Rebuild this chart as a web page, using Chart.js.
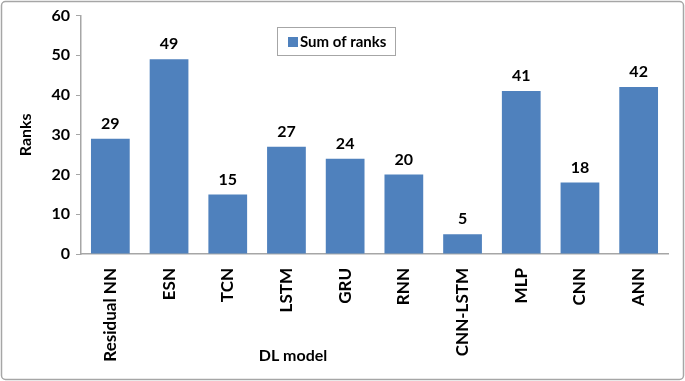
<!DOCTYPE html>
<html>
<head>
<meta charset="utf-8">
<script src="https://cdn.jsdelivr.net/npm/chart.js@4.4.1/dist/chart.umd.min.js"></script>
<style>
  html, body { margin: 0; padding: 0; background: #fff; }
  #wrap { width: 685px; height: 381px; position: relative; }
</style>
</head>
<body>
<div id="wrap"><canvas id="chart" width="685" height="381"></canvas></div>
<script>
// data
var models = ['Residual NN', 'ESN', 'TCN', 'LSTM', 'GRU', 'RNN', 'CNN-LSTM', 'MLP', 'CNN', 'ANN'];
var sumOfRanks = [29, 49, 15, 27, 24, 20, 5, 41, 18, 42];
var seriesName = 'Sum of ranks';
var xTitle = 'DL model';
var yTitle = 'Ranks';

var BLUE = '#4F81BD';
var FONT = 'Lato, "Open Sans", sans-serif';

// outer frame, value labels, boxed legend and x title
var decorations = {
  id: 'decorations',
  beforeDraw: function(chart) {
    var ctx = chart.ctx;
    ctx.save();
    ctx.fillStyle = '#fff';
    ctx.fillRect(0, 0, chart.width, chart.height);
    ctx.strokeStyle = '#a6a6a6';
    ctx.lineWidth = 1.5;
    ctx.beginPath();
    ctx.roundRect(1.5, 1.5, chart.width - 3, chart.height - 3, 4);
    ctx.stroke();
    ctx.restore();
  },
  afterDatasetsDraw: function(chart) {
    var ctx = chart.ctx;
    var meta = chart.getDatasetMeta(0);
    ctx.save();
    ctx.font = 'bold 16px ' + FONT;
    ctx.fillStyle = '#000';
    ctx.textAlign = 'center';
    ctx.textBaseline = 'bottom';
    meta.data.forEach(function(bar, i) {
      ctx.fillText(String(sumOfRanks[i]), bar.x, bar.y - 7);
    });

    // legend box
    var lx = 277, ly = 27, lw = 118, lh = 28;
    ctx.strokeStyle = '#a6a6a6';
    ctx.lineWidth = 1;
    ctx.fillStyle = '#fff';
    ctx.fillRect(lx, ly, lw, lh);
    ctx.strokeRect(lx + 0.5, ly + 0.5, lw, lh);
    ctx.fillStyle = BLUE;
    ctx.fillRect(lx + 11, ly + 10, 10, 10);
    ctx.fillStyle = '#000';
    ctx.font = 'bold 15px ' + FONT;
    ctx.textAlign = 'left';
    ctx.textBaseline = 'middle';
    ctx.fillText(seriesName, lx + 23, ly + 15);

    // x axis title, sits left of centre like the original
    ctx.font = 'bold 16px ' + FONT;
    ctx.textAlign = 'center';
    ctx.fillText(xTitle, 293, 356);
    ctx.restore();
  }
};

new Chart(document.getElementById('chart'), {
  type: 'bar',
  data: {
    labels: models,
    datasets: [{
      label: seriesName,
      data: sumOfRanks,
      backgroundColor: BLUE,
      barPercentage: 0.66,
      categoryPercentage: 1
    }]
  },
  options: {
    responsive: false,
    animation: false,
    events: [],
    layout: { padding: { top: 10, right: 17, bottom: 0, left: 8 } },
    plugins: {
      legend: { display: false },
      tooltip: { enabled: false }
    },
    scales: {
      x: {
        grid: { display: false, drawTicks: false },
        border: { color: '#a6a6a6', width: 1.5 },
        ticks: {
          color: '#000',
          font: { family: FONT, size: 17, weight: 'bold' },
          maxRotation: 90,
          minRotation: 90,
          padding: 14
        },
        afterFit: function(scale) { scale.height = 127; }
      },
      y: {
        min: 0,
        max: 60,
        grid: { drawOnChartArea: false, tickLength: 5, color: '#a6a6a6' },
        border: { color: '#a6a6a6', width: 1.5 },
        ticks: {
          stepSize: 10,
          color: '#000',
          padding: 6,
          font: { family: FONT, size: 16, weight: 'bold' }
        },
        title: {
          display: true,
          text: yTitle,
          color: '#000',
          font: { family: FONT, size: 16, weight: 'bold' },
          padding: { top: 8, bottom: 6 }
        },
        afterFit: function(scale) { scale.width = 73; }
      }
    }
  },
  plugins: [decorations]
});
</script>
</body>
</html>
